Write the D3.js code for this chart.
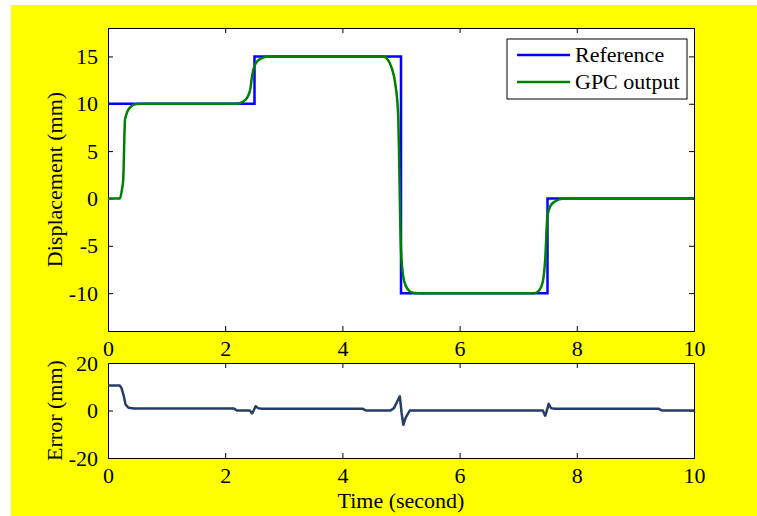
<!DOCTYPE html>
<html>
<head>
<meta charset="utf-8">
<script src="https://cdn.jsdelivr.net/npm/d3@7"></script>
<style>
  body { margin: 0; background: #fff; }
  text { font-family: "Liberation Serif", "Times New Roman", serif; fill: #000; }
</style>
</head>
<body>
<div id="chart"></div>
<script>
const width = 757;
const height = 516;

// reference step signal
const refTimes = [0, 2.5, 5, 7.5, 10];
const refValues = [10, 15, -10, 0, 0];

// GPC output
const outTimes = [0, 0.2, 0.24, 0.26, 0.29, 0.31, 0.35, 0.4, 0.49, 0.6, 2.2, 2.3, 2.38, 2.43, 2.46, 2.5, 2.55, 2.62, 2.7, 2.8,
  4.7, 4.78, 4.84, 4.9, 4.95, 5.0, 5.04, 5.08, 5.13, 5.2, 5.3, 7.28, 7.36, 7.42, 7.46, 7.5, 7.55, 7.62, 7.7, 7.8, 10];
const outValues = [0, 0, 1, 2, 8.3, 8.8, 9.4, 9.75, 9.97, 10, 10, 10.2, 10.7, 11.6, 13.0, 14.0, 14.5, 14.8, 14.95, 15,
  15, 14.6, 13.8, 12.2, 9.0, -5.5, -8.3, -9.2, -9.7, -9.95, -10, -10, -9.7, -8.8, -6.5, -1.8, -0.8, -0.35, -0.1, 0, 0];

// tracking error
const errTimes = [0, 0.2, 0.23, 0.27, 0.3, 0.35, 0.45, 2.15, 2.2, 2.42, 2.46, 2.49, 2.52, 2.56, 2.62, 4.35, 4.4,
  4.82, 4.88, 4.95, 4.98, 5.01, 5.04, 5.08, 5.15, 7.42, 7.46, 7.48, 7.52, 7.56, 7.62, 9.4, 9.45, 10];
const errValues = [10.5, 10.5, 9.5, 6, 2.5, 1.2, 0.8, 0.8, 0, 0, -1.2, 0.2, 1.8, 1.0, 0.7, 0.7, 0,
  0, 1, 4.5, 6, -1, -6, -3, 0, 0, -2.2, -0.8, 2.8, 1.0, 0.7, 0.7, 0, 0];

const xTicks = [0, 2, 4, 6, 8, 10];
const topYTicks = [-10, -5, 0, 5, 10, 15];
const botYTicks = [-20, 0, 20];
const seriesNames = ["Reference", "GPC output"];
const seriesColors = ["#0000ff", "#008000"];

const fontFamily = '"Liberation Serif", "Times New Roman", serif';
const fs = "22px";
const fmt = d => String(d); // plain hyphen minus like MATLAB

const svg = d3.select("#chart").append("svg")
  .attr("width", width)
  .attr("height", height);

// yellow figure background
svg.append("rect")
  .attr("x", 11).attr("y", 5)
  .attr("width", width - 11).attr("height", height - 5)
  .attr("fill", "#ffff00");

const left = 108, right = 694;
const x = d3.scaleLinear().domain([0, 10]).range([left, right]);

function drawAxes(y, top, bottom, yTicks) {
  const g = svg.append("g");
  g.append("rect")
    .attr("x", left).attr("y", top)
    .attr("width", right - left).attr("height", bottom - top)
    .attr("fill", "#fff");

  g.append("g").attr("transform", `translate(0,${bottom})`)
    .call(d3.axisBottom(x).tickValues(xTicks).tickSize(-5).tickPadding(9).tickFormat(fmt));
  g.append("g").attr("transform", `translate(0,${top})`)
    .call(d3.axisTop(x).tickValues(xTicks).tickSize(-5).tickFormat(""));
  g.append("g").attr("transform", `translate(${left},0)`)
    .call(d3.axisLeft(y).tickValues(yTicks).tickSize(-5).tickPadding(10).tickFormat(fmt));
  g.append("g").attr("transform", `translate(${right},0)`)
    .call(d3.axisRight(y).tickValues(yTicks).tickSize(-5).tickFormat(""));
  g.selectAll("g").attr("font-family", fontFamily).attr("font-size", fs);
  g.selectAll(".domain").attr("stroke", "#000");
  g.selectAll(".tick line").attr("stroke", "#000");
  g.selectAll(".tick text").attr("fill", "#000");
  return g;
}

// ---- top panel
const topT = 28, topB = 331;
const y1 = d3.scaleLinear().domain([-14, 18]).range([topB, topT]);
drawAxes(y1, topT, topB, topYTicks);

const plot1 = svg.append("g");
plot1.append("path")
  .datum(refTimes.map((t, i) => [t, refValues[i]]))
  .attr("fill", "none")
  .attr("stroke", seriesColors[0])
  .attr("stroke-width", 2.5)
  .attr("d", d3.line().x(d => x(d[0])).y(d => y1(d[1])).curve(d3.curveStepAfter));

plot1.append("path")
  .datum(outTimes.map((t, i) => [t, outValues[i]]))
  .attr("fill", "none")
  .attr("stroke", seriesColors[1])
  .attr("stroke-width", 2.5)
  .attr("stroke-linejoin", "round")
  .attr("d", d3.line().x(d => x(d[0])).y(d => y1(d[1])).curve(d3.curveMonotoneX));

svg.append("text")
  .attr("transform", `translate(62,${(topT + topB) / 2}) rotate(-90)`)
  .attr("text-anchor", "middle")
  .style("font-size", fs)
  .text("Displacement (mm)");

// legend
const legend = svg.append("g").attr("transform", "translate(507,39)");
legend.append("rect")
  .attr("width", 180).attr("height", 60)
  .attr("fill", "#fff").attr("stroke", "#000").attr("stroke-width", 1);
seriesNames.forEach((name, i) => {
  const ly = 16 + i * 27;
  legend.append("line")
    .attr("x1", 10).attr("x2", 63).attr("y1", ly).attr("y2", ly)
    .attr("stroke", seriesColors[i]).attr("stroke-width", 2.5);
  legend.append("text")
    .attr("x", 68).attr("y", ly + 7)
    .style("font-size", fs)
    .text(name);
});

// ---- bottom panel
const botT = 363, botB = 458;
const y2 = d3.scaleLinear().domain([-20, 20]).range([botB, botT]);
drawAxes(y2, botT, botB, botYTicks);

svg.append("path")
  .datum(errTimes.map((t, i) => [t, errValues[i]]))
  .attr("fill", "none")
  .attr("stroke", "#263d66")
  .attr("stroke-width", 2.5)
  .attr("stroke-linejoin", "round")
  .attr("d", d3.line().x(d => x(d[0])).y(d => y2(d[1])));

svg.append("text")
  .attr("transform", `translate(62,${(botT + botB) / 2}) rotate(-90)`)
  .attr("text-anchor", "middle")
  .style("font-size", fs)
  .text("Error (mm)");

svg.append("text")
  .attr("x", (left + right) / 2).attr("y", 508)
  .attr("text-anchor", "middle")
  .style("font-size", fs)
  .text("Time (second)");
</script>
</body>
</html>
